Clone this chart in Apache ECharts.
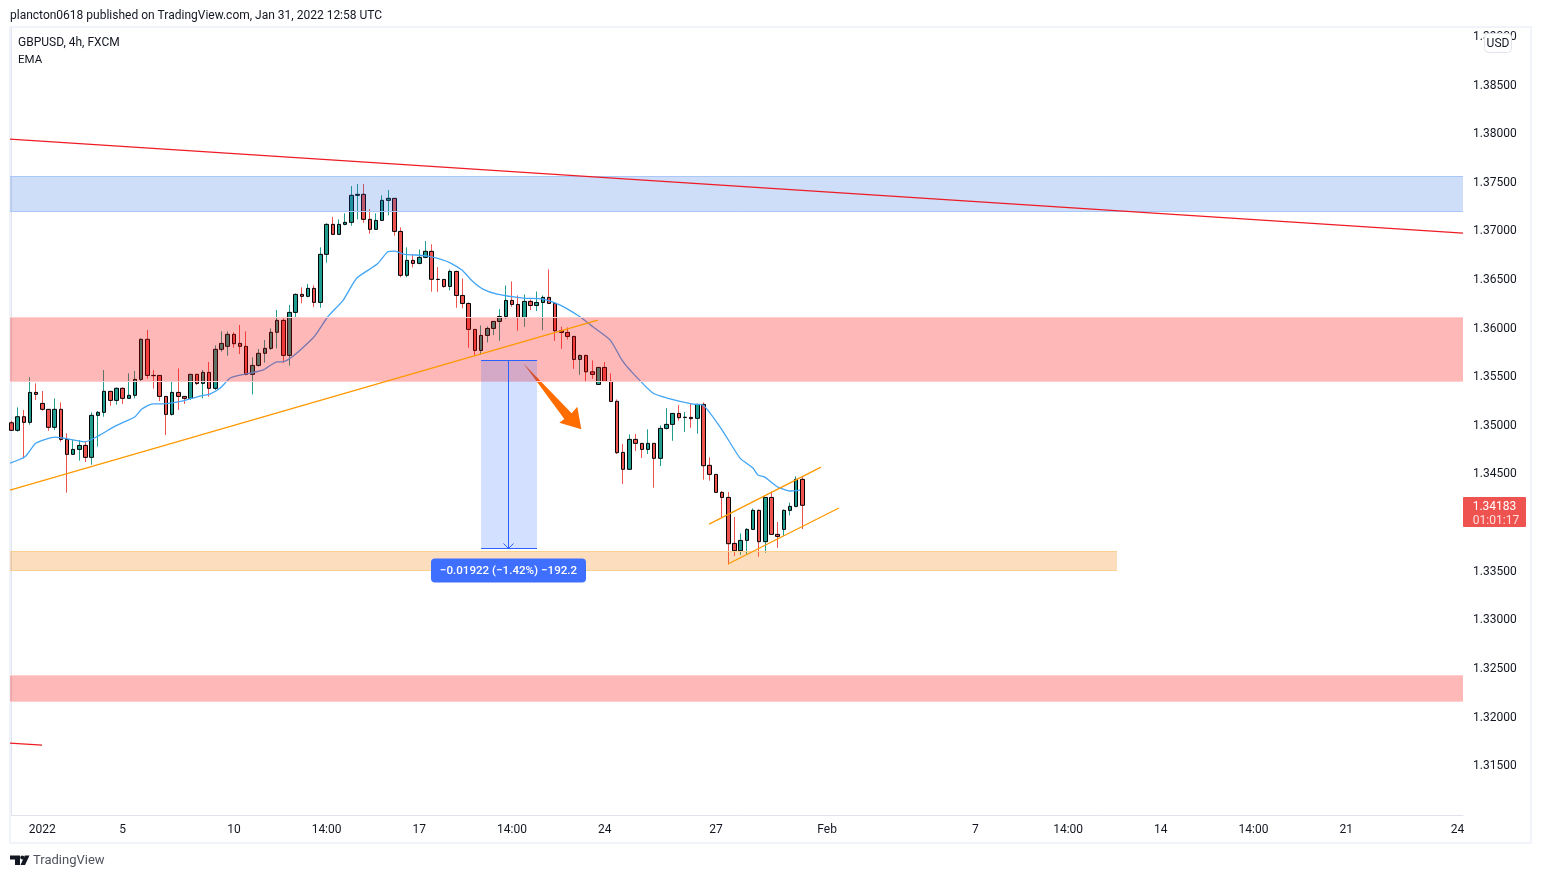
<!DOCTYPE html>
<html>
<head>
<meta charset="utf-8">
<title>GBPUSD 4h</title>
<script src="https://cdn.jsdelivr.net/npm/echarts@6/dist/echarts.min.js"></script>
<style>
  html, body { margin: 0; padding: 0; background: #fff; }
  #container { width: 1541px; height: 878px; }
</style>
</head>
<body>
<div id="container"></div>
<script>
// candles, one entry per 4h bar
var opens = [
  1.35032,1.34954,1.35094,1.35036,1.35344,1.35231,1.35170,1.34985,1.35170,1.34861,
  1.34707,1.34758,1.34799,1.34676,1.35108,1.35139,1.35355,1.35262,1.35386,1.35283,
  1.35314,1.35478,1.35890,1.35519,1.35519,1.35303,1.35118,1.35344,1.35303,1.35283,
  1.35530,1.35437,1.35550,1.35386,1.35787,1.35818,1.35941,1.35848,1.35818,1.35530,
  1.35622,1.35746,1.35797,1.35962,1.36085,1.35725,1.36167,1.36352,1.36332,1.36414,
  1.36270,1.36764,1.37072,1.36969,1.37072,1.37093,1.37371,1.37381,1.37124,1.37021,
  1.37113,1.37319,1.37340,1.37000,1.36548,1.36702,1.36671,1.36733,1.36795,1.36507,
  1.36506,1.36434,1.36588,1.36341,1.36259,1.35992,1.35776,1.35930,1.36002,1.36074,
  1.36125,1.36290,1.36249,1.36115,1.36280,1.36238,1.36269,1.36321,1.36259,1.35978,
  1.35961,1.35920,1.35683,1.35724,1.35556,1.35426,1.35601,1.35457,1.35252,1.34727,
  1.34553,1.34861,1.34820,1.34758,1.34820,1.34666,1.34974,1.35015,1.35128,1.35085,
  1.35087,1.35077,1.35221,1.34594,1.34501,1.34316,1.34264,1.33791,1.33716,1.33822,
  1.33935,1.34131,1.33809,1.34264,1.33884,1.33935,1.34131,1.34172,1.34450
];
var closes = [
  1.34954,1.35094,1.35036,1.35344,1.35324,1.35170,1.34985,1.35170,1.34861,1.34707,
  1.34758,1.34799,1.34676,1.35108,1.35139,1.35355,1.35262,1.35386,1.35283,1.35314,
  1.35478,1.35890,1.35519,1.35516,1.35303,1.35118,1.35344,1.35303,1.35283,1.35530,
  1.35437,1.35550,1.35386,1.35787,1.35848,1.35941,1.35845,1.35818,1.35530,1.35622,
  1.35746,1.35797,1.35962,1.36085,1.35725,1.36167,1.36352,1.36332,1.36414,1.36270,
  1.36764,1.37072,1.36969,1.37072,1.37093,1.37371,1.37381,1.37124,1.37021,1.37113,
  1.37319,1.37340,1.37000,1.36548,1.36702,1.36671,1.36733,1.36795,1.36507,1.36505,
  1.36434,1.36588,1.36341,1.36259,1.35992,1.35776,1.35930,1.36002,1.36074,1.36125,
  1.36290,1.36249,1.36115,1.36280,1.36238,1.36269,1.36321,1.36259,1.35978,1.35961,
  1.35920,1.35683,1.35724,1.35556,1.35529,1.35601,1.35457,1.35251,1.34724,1.34553,
  1.34861,1.34820,1.34758,1.34820,1.34666,1.34974,1.35015,1.35128,1.35084,1.35089,
  1.35074,1.35221,1.34590,1.34501,1.34316,1.34264,1.33788,1.33716,1.33822,1.33935,
  1.34131,1.33809,1.34264,1.33884,1.33863,1.34131,1.34172,1.34450,1.34183
];
var lows = [
  1.34954,1.34940,1.34666,1.35012,1.35266,1.35156,1.34950,1.34957,1.34837,1.34313,
  1.34707,1.34642,1.34628,1.34601,1.34786,1.35094,1.35207,1.35218,1.35225,1.35283,
  1.35283,1.35454,1.35485,1.35382,1.35255,1.34906,1.35105,1.35163,1.35225,1.35266,
  1.35420,1.35283,1.35300,1.35369,1.35763,1.35722,1.35804,1.35739,1.35519,1.35324,
  1.35609,1.35650,1.35780,1.35797,1.35650,1.35619,1.36112,1.36260,1.36322,1.36222,
  1.36215,1.36678,1.36969,1.36969,1.37062,1.37059,1.37124,1.37089,1.36976,1.37021,
  1.37113,1.37165,1.36956,1.36527,1.36527,1.36630,1.36661,1.36723,1.36380,1.36379,
  1.36420,1.36393,1.36214,1.36208,1.35803,1.35728,1.35735,1.35858,1.35933,1.35875,
  1.36101,1.36225,1.35978,1.36019,1.36190,1.36180,1.35985,1.36259,1.35875,1.35793,
  1.35889,1.35587,1.35525,1.35453,1.35484,1.35426,1.35457,1.35244,1.34710,1.34402,
  1.34553,1.34741,1.34669,1.34710,1.34364,1.34587,1.34964,1.34847,1.35053,1.34936,
  1.34981,1.34919,1.34446,1.34436,1.34316,1.34062,1.33575,1.33661,1.33671,1.33678,
  1.33929,1.33654,1.33695,1.33884,1.33747,1.33867,1.34079,1.34162,1.33939
];
var highs = [
  1.35053,1.35190,1.35163,1.35499,1.35437,1.35358,1.35170,1.35283,1.35242,1.34923,
  1.34854,1.34854,1.34837,1.35139,1.35153,1.35574,1.35355,1.35396,1.35396,1.35540,
  1.35564,1.35900,1.35986,1.35574,1.35519,1.35303,1.35458,1.35591,1.35303,1.35530,
  1.35530,1.35574,1.35657,1.35828,1.35972,1.35972,1.35962,1.36037,1.35972,1.35705,
  1.35790,1.35883,1.36003,1.36191,1.36106,1.36243,1.36363,1.36424,1.36459,1.36445,
  1.36836,1.37083,1.37148,1.37124,1.37185,1.37466,1.37487,1.37487,1.37230,1.37185,
  1.37371,1.37425,1.37340,1.37041,1.36836,1.36764,1.36815,1.36901,1.36867,1.36633,
  1.36506,1.36609,1.36595,1.36516,1.36269,1.35992,1.36033,1.36023,1.36074,1.36201,
  1.36444,1.36485,1.36341,1.36352,1.36300,1.36382,1.36341,1.36609,1.36259,1.36019,
  1.36012,1.35920,1.35735,1.35735,1.35673,1.35601,1.35656,1.35539,1.35272,1.34813,
  1.34912,1.34916,1.34820,1.34964,1.34820,1.35005,1.35183,1.35128,1.35214,1.35142,
  1.35231,1.35221,1.35241,1.34676,1.34501,1.34330,1.34319,1.34062,1.33894,1.33949,
  1.34151,1.34141,1.34264,1.34326,1.34011,1.34141,1.34210,1.34481,1.34477
];

// EMA
var emaBars = [-0.2,2.2,4,7.1,11.9,14.3,16.8,20,21.1,22.9,24.5,27.8,30.5,32.1,33.8,35.4,37,40.7,43,43.9,48.8,51.2,53.7,55.9,59.2,60.9,62.1,63.4,67.2,69.4,71,72.9,74.7,76.3,78.6,82.8,86,88.8,92,94.1,96.9,98.8,100.1,103.8,106.1,110.3,111.9,115,117.9,120,120.8,121.9,124,126,127.6];
var emaPrices = [1.34617,1.34682,1.34823,1.34885,1.34836,1.34905,1.34998,1.35094,1.35173,1.35227,1.35227,1.35258,1.35306,1.35327,1.35389,1.35492,1.35522,1.35574,1.35659,1.35659,1.35903,1.36122,1.36294,1.3652,1.36664,1.3679,1.36798,1.36767,1.36749,1.36715,1.36677,1.36602,1.36482,1.36407,1.36355,1.36314,1.36304,1.36242,1.36122,1.36019,1.35882,1.35677,1.35574,1.35337,1.35286,1.35224,1.35214,1.34957,1.34669,1.34566,1.34494,1.34473,1.34371,1.3433,1.3434];

// axis labels
var priceTicks = [1.315,1.32,1.325,1.33,1.335,1.34,1.345,1.35,1.355,1.36,1.365,1.37,1.375,1.38,1.385,1.39];
var timeTickBars = [5,18,36,51,66,81,96,114,132,156,171,186,201,216,234];
var timeTickLabels = ["2022","5","10","14:00","17","14:00","24","27","Feb","7","14:00","14","14:00","21","24"];

// horizontal zones: [from bar, to bar, top price, bottom price]
var zoneBlue = [-1, 236, 1.37559, 1.37199];
var zonePinkUpper = [-1, 236, 1.36109, 1.35456];
var zonePeach = [-1, 178.9, 1.33702, 1.33512];
var zonePinkLower = [-1, 236, 1.32427, 1.32160];

// drawn trend lines: [bar, price] ends
var redLine = [[-0.23, 1.37949], [234.9, 1.36983]];
var redStub = [[-0.23, 1.31738], [4.95, 1.31717]];
var supportLine = [[-0.23, 1.3434], [94.9, 1.36088]];
var channelUpper = [[112.9, 1.3399], [131, 1.34576]];
var channelLower = [[115.95, 1.33579], [133.9, 1.34155]];

// measure tool and arrow
var measureBars = [76, 85.05];
var measurePrices = [1.35666, 1.33733];
var measureText = "\u22120.01922 (\u22121.42%) \u2212192.2";
var arrowShape = [[82.83,1.35643],[90.66,1.35129],[91.57,1.35196],[92.22,1.34964],[88.66,1.35032],[89.47,1.3507]];

var UP = "#1f9d8f";
var DOWN = "#ef5350";
var FONT = "Roboto";
var bars = opens.map(function (o, i) { return i; });

var wickData = bars.map(function (i) {
  return [i, opens[i], closes[i], lows[i], highs[i]];
});
var bodyData = bars.map(function (i) {
  return [i, opens[i], closes[i], Math.min(opens[i], closes[i]), Math.max(opens[i], closes[i])];
});

// snap to the pixel grid so 1px lines stay crisp
function crisp(v) {
  return Math.round(v) - 0.5;
}

function drawZones(params, api) {
  var a = api.coord([api.value(0), api.value(2)]);
  var b = api.coord([api.value(1), api.value(3)]);
  var top = crisp(a[1]);
  var bottom = crisp(b[1]);
  var style = zoneStyles[params.dataIndex];
  return {
    type: "group",
    children: [
      { type: "rect", shape: { x: a[0], y: top, width: b[0] - a[0], height: bottom - top }, style: { fill: style.fill } },
      { type: "line", shape: { x1: a[0], y1: top, x2: b[0], y2: top }, style: { stroke: style.edge, lineWidth: 1 } },
      { type: "line", shape: { x1: a[0], y1: bottom, x2: b[0], y2: bottom }, style: { stroke: style.edge, lineWidth: 1 } },
    ],
  };
}
var zoneStyles = [
  { fill: "rgba(33,100,225,0.22)", edge: "#a9c8f7" },
  { fill: "rgba(255,0,0,0.28)", edge: "#ffcfcf" },
  { fill: "rgba(245,124,0,0.26)", edge: "#fcd08f" },
  { fill: "rgba(255,0,0,0.28)", edge: "#ffcfcf" },
];

function drawMeasure(params, api) {
  var a = api.coord([measureBars[0], measurePrices[0]]);
  var b = api.coord([measureBars[1], measurePrices[1]]);
  var mid = crisp((a[0] + b[0]) / 2);
  var top = crisp(a[1]);
  var bottom = crisp(b[1]);
  return {
    type: "group",
    children: [
      { type: "rect", shape: { x: a[0], y: top, width: b[0] - a[0], height: bottom - top }, style: { fill: "rgba(41,98,255,0.2)" } },
      { type: "line", shape: { x1: a[0], y1: top, x2: b[0], y2: top }, style: { stroke: "#2962ff", lineWidth: 1 } },
      { type: "line", shape: { x1: a[0], y1: bottom, x2: b[0], y2: bottom }, style: { stroke: "#2962ff", lineWidth: 1 } },
      { type: "line", shape: { x1: mid, y1: top, x2: mid, y2: bottom }, style: { stroke: "#2962ff", lineWidth: 1 } },
      { type: "polyline", shape: { points: [[mid - 5, bottom - 5], [mid, bottom], [mid + 5, bottom - 5]] }, style: { stroke: "#2962ff", fill: "none", lineWidth: 1 } },
      { type: "rect", shape: { x: 431, y: bottom + 10, width: 155, height: 24, r: 4 }, style: { fill: "#3f6fff" } },
      {
        type: "text",
        style: { text: measureText, x: 508.5, y: bottom + 23, fill: "#fff", font: "500 11.6px " + FONT, align: "center", verticalAlign: "middle" },
      },
    ],
  };
}

function drawArrow(params, api) {
  return {
    type: "polygon",
    shape: { points: arrowShape.map(function (p) { return api.coord(p); }) },
    style: { fill: "#ff6d00" },
  };
}

function trendSeries(points, color, width) {
  return {
    type: "line",
    data: points,
    symbol: "none",
    z: 7,
    lineStyle: { color: color, width: width },
    silent: true,
  };
}

var myChart = echarts.init(document.getElementById("container"));
myChart.setOption({
  animation: false,
  textStyle: { fontFamily: FONT },
  grid: { left: 10, right: 78, top: 27, bottom: 63 },
  xAxis: {
    type: "value",
    min: -0.2265,
    max: 234.89,
    splitLine: { show: false },
    axisLine: { onZero: false, lineStyle: { color: "#e0e3eb" } },
    axisTick: { show: false },
    axisLabel: {
      customValues: timeTickBars,
      color: "#131722",
      fontSize: 12,
      fontFamily: FONT,
      margin: 9,
      hideOverlap: false,
      showMinLabel: true,
      showMaxLabel: true,
      formatter: function (v) {
        return timeTickLabels[timeTickBars.indexOf(v)];
      },
    },
  },
  yAxis: {
    type: "value",
    position: "right",
    min: 1.30998,
    max: 1.39102,
    splitLine: { show: false },
    axisLine: { show: true, lineStyle: { color: "#e0e3eb" } },
    axisTick: { show: false },
    axisLabel: {
      customValues: priceTicks,
      color: "#131722",
      fontSize: 12,
      fontFamily: FONT,
      margin: 10,
      padding: [4, 0, 0, 0],
      formatter: function (v) {
        return v.toFixed(5);
      },
    },
  },
  series: [
    {
      name: "wicks",
      type: "candlestick",
      data: wickData,
      encode: { x: 0, y: [1, 2, 3, 4] },
      barWidth: 1,
      z: 2,
      itemStyle: { color: UP, color0: DOWN, borderColor: UP, borderColor0: DOWN, borderWidth: 1 },
    },
    {
      name: "GBPUSD",
      type: "candlestick",
      data: bodyData,
      encode: { x: 0, y: [1, 2, 3, 4] },
      barWidth: 4,
      z: 3,
      itemStyle: { color: UP, color0: DOWN, borderColor: "#000", borderColor0: "#000", borderWidth: 1 },
    },
    {
      name: "EMA",
      type: "line",
      data: emaBars.map(function (b, i) { return [b, emaPrices[i]]; }),
      symbol: "none",
      smooth: 0.2,
      z: 4,
      lineStyle: { color: "#42a5f5", width: 1.3 },
    },
    { type: "custom", renderItem: drawArrow, data: [[0, 0]], z: 4, clip: true, silent: true },
    {
      type: "custom",
      renderItem: drawZones,
      data: [zoneBlue, zonePinkUpper, zonePeach, zonePinkLower],
      z: 5,
      clip: true,
      silent: true,
    },
    { type: "custom", renderItem: drawMeasure, data: [[0, 0]], z: 6, silent: true },
    trendSeries(redLine, "#ee1c25", 1.2),
    trendSeries(redStub, "#ee1c25", 1.2),
    trendSeries(supportLine, "#ff9800", 1.3),
    trendSeries(channelUpper, "#ff9800", 1.3),
    trendSeries(channelLower, "#ff9800", 1.3),
  ],
  graphic: [
    // frame of the chart
    { type: "rect", silent: true, z: 1, shape: { x: 10, y: 27, width: 1521, height: 816 }, style: { fill: "none", stroke: "#f0f3fa", lineWidth: 2 } },
    { type: "text", z: 10, style: { text: "plancton0618 published on TradingView.com, Jan 31, 2022 12:58 UTC", x: 10, y: 16, fill: "#131722", font: "12px " + FONT, verticalAlign: "middle" } },
    { type: "text", z: 10, style: { text: "GBPUSD, 4h, FXCM", x: 18, y: 43, fill: "#131722", font: "12px " + FONT, verticalAlign: "middle" } },
    { type: "text", z: 10, style: { text: "EMA", x: 18, y: 60, fill: "#131722", font: "11.5px " + FONT, verticalAlign: "middle" } },
    // currency button over the top price label
    { type: "rect", z: 10, shape: { x: 1484.5, y: 33.5, width: 27, height: 19, r: 4 }, style: { fill: "#fff", stroke: "#e0e3eb", lineWidth: 1 } },
    { type: "text", z: 11, style: { text: "USD", x: 1498, y: 44, fill: "#131722", font: "12px " + FONT, align: "center", verticalAlign: "middle" } },
    // last price tag
    { type: "rect", z: 10, shape: { x: 1463, y: 497, width: 63, height: 30, r: 1 }, style: { fill: "#ef5350" } },
    { type: "text", z: 11, style: { text: "1.34183", x: 1494.5, y: 506.5, fill: "#fff", font: "12px " + FONT, align: "center", verticalAlign: "middle" } },
    { type: "text", z: 11, style: { text: "01:01:17", x: 1496, y: 520.5, fill: "#fde0df", font: "12px " + FONT, align: "center", verticalAlign: "middle" } },
    // TradingView mark
    { type: "polygon", z: 10, shape: { points: [[10, 855.5], [20, 855.5], [20, 865], [15, 865], [15, 859.5], [10, 859.5]] }, style: { fill: "#131722" } },
    { type: "circle", z: 10, shape: { cx: 22.3, cy: 857.5, r: 2 }, style: { fill: "#131722" } },
    { type: "polygon", z: 10, shape: { points: [[24.8, 855.5], [29.5, 855.5], [25, 865], [20.5, 865]] }, style: { fill: "#131722" } },
    { type: "text", z: 10, style: { text: "TradingView", x: 33, y: 861, fill: "#50535e", font: "13px " + FONT, verticalAlign: "middle" } },
  ],
});
</script>
</body>
</html>
